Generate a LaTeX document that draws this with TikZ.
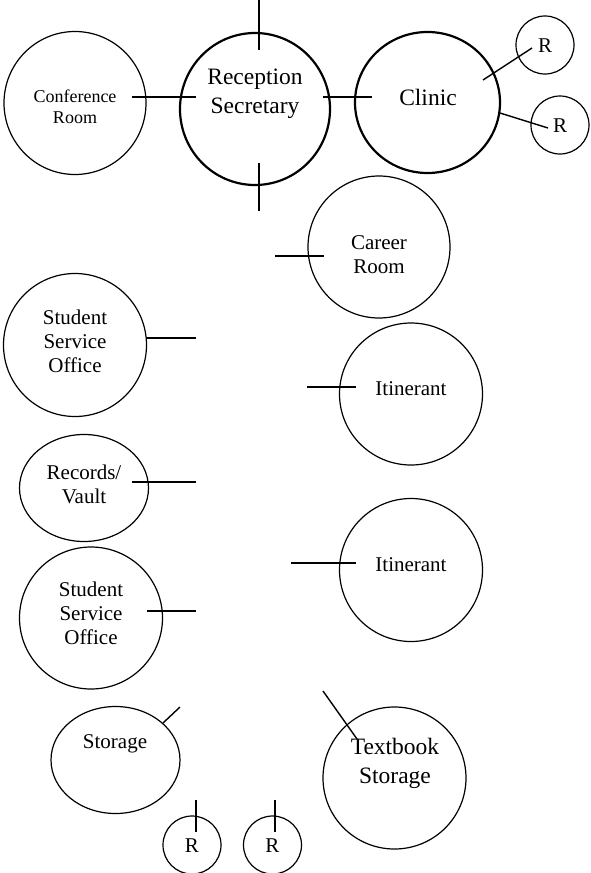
\documentclass[tikz,border=0pt]{standalone}
\usepackage{fontspec}
\setmainfont{Liberation Serif}
\usetikzlibrary{shapes.geometric}

\tikzset{
  room/.style={draw, ellipse, line width=1.2pt, inner sep=0pt},
  mainroom/.style={room, line width=2.2pt},
  stub/.style={line width=1.4pt},
  txtS/.style={align=center, inner sep=0pt, font=\fontsize{18}{21}\selectfont},
  txtM/.style={align=center, inner sep=0pt, font=\fontsize{21}{24}\selectfont},
  txtL/.style={align=center, inner sep=0pt, font=\fontsize{23.5}{29}\selectfont}
}

\begin{document}
\begin{tikzpicture}[x=1pt, y=-1pt]
\useasboundingbox (0,0) rectangle (590,873);
% rooms
\node[room, minimum width=142pt, minimum height=143pt] (Conf) at (75,103) {};
\node[mainroom, minimum width=150pt, minimum height=152pt] (Recep) at (255,109) {};
\node[mainroom, minimum width=145pt, minimum height=141pt] (Clinic) at (427.5,102.5) {};
\node[room, minimum width=58pt, minimum height=58pt] (RA) at (545,45) {};
\node[room, minimum width=58pt, minimum height=58pt] (RB) at (560,125) {};
\node[room, minimum width=142pt, minimum height=142pt] (Career) at (379,247) {};
\node[room, minimum width=143pt, minimum height=143pt] (SSO1) at (75,345) {};
\node[room, minimum width=143pt, minimum height=142pt] (Itin1) at (411,394) {};
\node[room, minimum width=129pt, minimum height=107pt] (Rec) at (84,488) {};
\node[room, minimum width=143pt, minimum height=143pt] (Itin2) at (411,570) {};
\node[room, minimum width=143pt, minimum height=142pt] (SSO2) at (91,618) {};
\node[room, minimum width=129pt, minimum height=107pt] (Stor) at (115.5,760) {};
\node[room, minimum width=143pt, minimum height=142pt] (Text) at (394.5,778) {};
\node[room, minimum width=58pt, minimum height=58pt] (R1) at (192,845) {};
\node[room, minimum width=58pt, minimum height=58pt] (R2) at (272.5,845) {};

% labels
\node[txtS] (ConfT) at (75,107) {Conference\\Room};
\node[txtL] (RecepT) at (255,94) {Reception\\Secretary};
\node[txtL] (ClinicT) at (428,97) {Clinic};
\node[txtM] (RAT) at (545,46) {R};
\node[txtM] (RBT) at (560,126) {R};
\node[txtM] (CareerT) at (379,255) {Career\\Room};
\node[txtM] (SSO1T) at (75,341) {Student\\Service\\Office};
\node[txtM] (Itin1T) at (411,389) {Itinerant};
\node[txtM] (RecT) at (84,484) {Records/\\Vault};
\node[txtM] (Itin2T) at (411,565) {Itinerant};
\node[txtM] (SSO2T) at (91,613) {Student\\Service\\Office};
\node[txtM] (StorT) at (115,744) {Storage};
\node[txtL] (TextT) at (395,763) {Textbook\\Storage};
\node[txtM] (R1T) at (192,846) {R};
\node[txtM] (R2T) at (272.5,846) {R};

% door stubs
\coordinate (S1a) at (259,0);     \coordinate (S1b) at (259,50);
\coordinate (S2a) at (259,163);   \coordinate (S2b) at (259,211);
\coordinate (S3a) at (132,97);    \coordinate (S3b) at (196,97);
\coordinate (S4a) at (323,97);    \coordinate (S4b) at (372,97);
\coordinate (S5a) at (483,80);    \coordinate (S5b) at (532,48);
\coordinate (S6a) at (500,113);   \coordinate (S6b) at (548,128);
\coordinate (S7a) at (275,256);   \coordinate (S7b) at (324,256);
\coordinate (S8a) at (146,338);   \coordinate (S8b) at (196,338);
\coordinate (S9a) at (307,387);   \coordinate (S9b) at (356,387);
\coordinate (S10a) at (132,482);  \coordinate (S10b) at (196,482);
\coordinate (S11a) at (291,563);  \coordinate (S11b) at (356,563);
\coordinate (S12a) at (147,611);  \coordinate (S12b) at (196,611);
\coordinate (S13a) at (163,723);  \coordinate (S13b) at (180,707);
\coordinate (S14a) at (323,691);  \coordinate (S14b) at (357,739);
\coordinate (S15a) at (196,800);  \coordinate (S15b) at (196,832);
\coordinate (S16a) at (275,800);  \coordinate (S16b) at (275,832);
\path[stub]
(S1a) edge (S1b)
(S2a) edge (S2b)
(S3a) edge (S3b)
(S4a) edge (S4b)
(S5a) edge (S5b)
(S6a) edge (S6b)
(S7a) edge (S7b)
(S8a) edge (S8b)
(S9a) edge (S9b)
(S10a) edge (S10b)
(S11a) edge (S11b)
(S12a) edge (S12b)
(S13a) edge (S13b)
(S14a) edge (S14b)
(S15a) edge (S15b)
(S16a) edge (S16b);
\end{tikzpicture}
\end{document}
